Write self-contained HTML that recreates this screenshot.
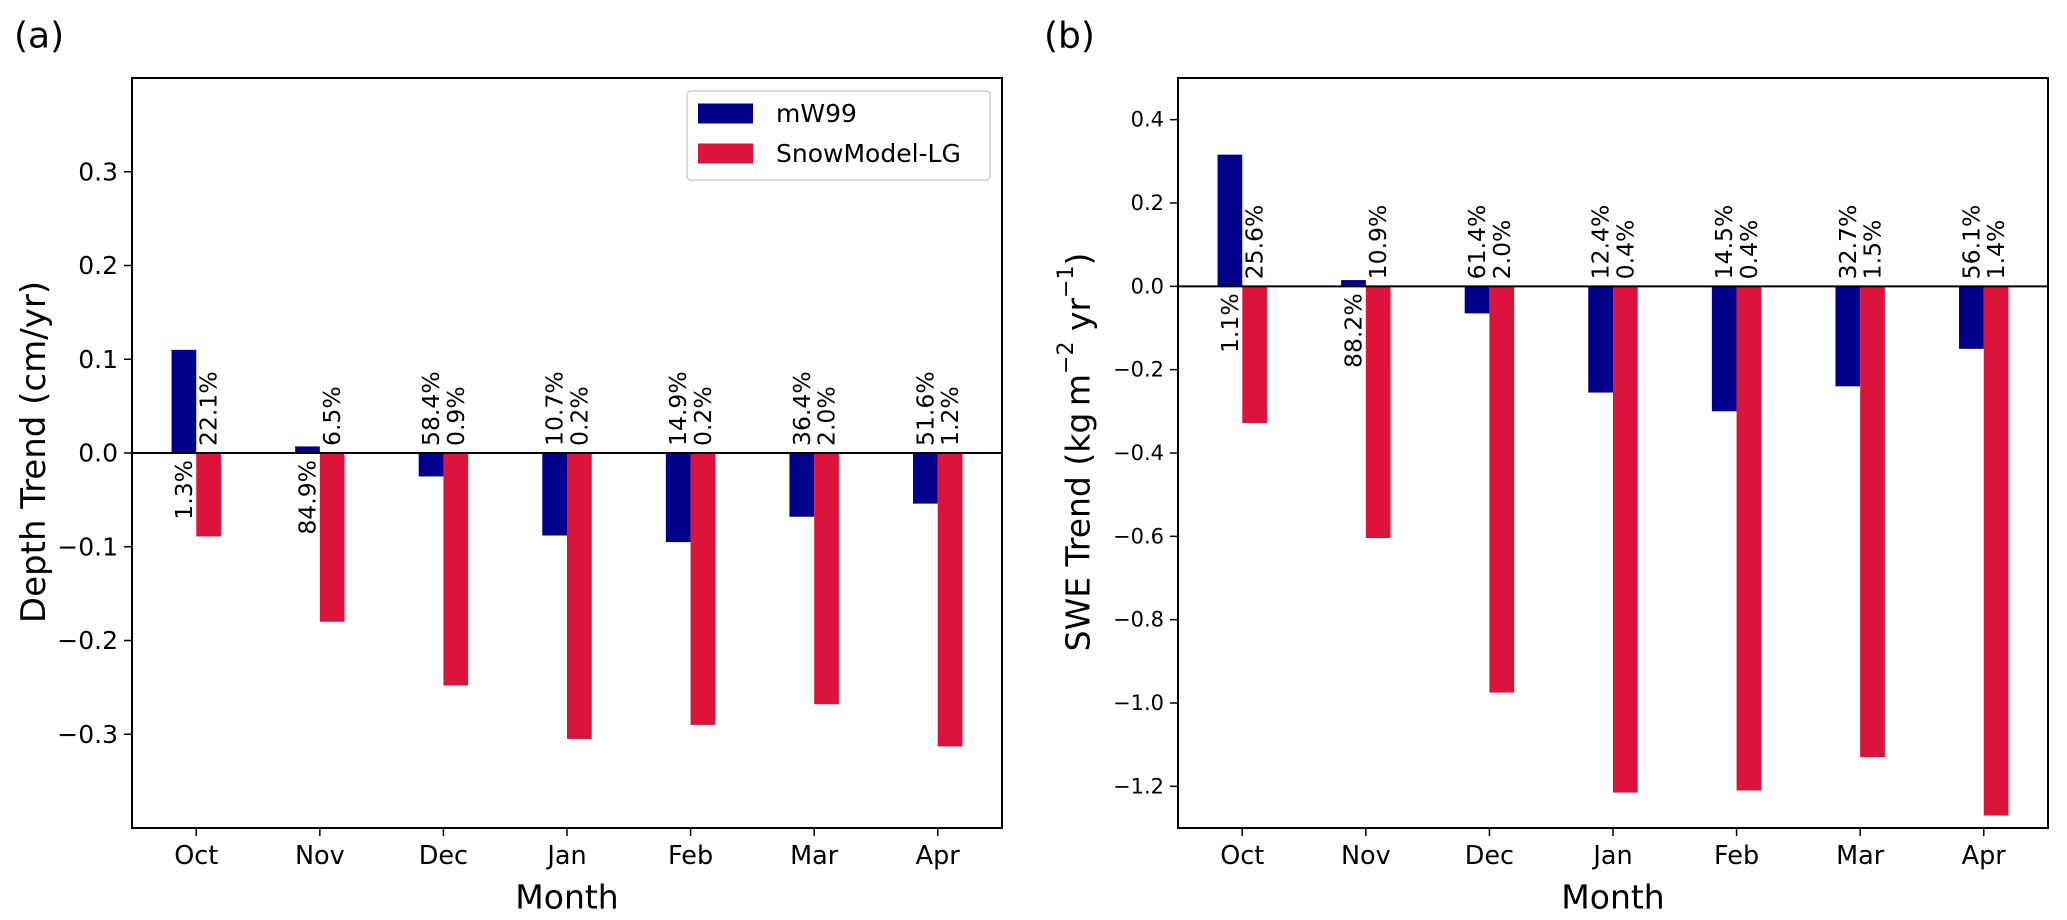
<!DOCTYPE html>
<html><head><meta charset="utf-8"><style>
html,body{margin:0;padding:0;background:#fff;}
svg{display:block;font-family:"DejaVu Sans","Liberation Sans",sans-serif;}
</style></head>
<body>
<svg id="fig" width="2067" height="920" viewBox="0 0 2067 920" xmlns="http://www.w3.org/2000/svg"></svg>
<script>
const months = ["Oct","Nov","Dec","Jan","Feb","Mar","Apr"];
const depthMW99 = [0.110, 0.007, -0.025, -0.088, -0.095, -0.068, -0.054];
const depthSnowModel = [-0.089, -0.180, -0.248, -0.305, -0.290, -0.268, -0.313];
const depthMW99Pct = ["1.3%","84.9%","58.4%","10.7%","14.9%","36.4%","51.6%"];
const depthSnowModelPct = ["22.1%","6.5%","0.9%","0.2%","0.2%","2.0%","1.2%"];
const depthTicks = [0.3,0.2,0.1,0.0,-0.1,-0.2,-0.3];
const depthTickLabels = ["0.3","0.2","0.1","0.0","\u22120.1","\u22120.2","\u22120.3"];
const sweMW99 = [0.316, 0.015, -0.065, -0.255, -0.300, -0.240, -0.150];
const sweSnowModel = [-0.328, -0.604, -0.975, -1.215, -1.210, -1.130, -1.270];
const sweMW99Pct = ["1.1%","88.2%","61.4%","12.4%","14.5%","32.7%","56.1%"];
const sweSnowModelPct = ["25.6%","10.9%","2.0%","0.4%","0.4%","1.5%","1.4%"];
const sweTicks = [0.4,0.2,0.0,-0.2,-0.4,-0.6,-0.8,-1.0,-1.2];
const sweTickLabels = ["0.4","0.2","0.0","\u22120.2","\u22120.4","\u22120.6","\u22120.8","\u22121.0","\u22121.2"];

const NS="http://www.w3.org/2000/svg";
const svg=document.getElementById('fig');
function mk(tag,attrs,parent){const e=document.createElementNS(NS,tag);for(const k in attrs)e.setAttribute(k,attrs[k]);(parent||svg).appendChild(e);return e;}

function panel(cfg){
  const g=mk('g',{});
  
  
  const L=cfg.left,R=cfg.right,T=78,B=828;
  const xmin=-0.52,xmax=6.52;
  const xs=v=>L+(v-xmin)/(xmax-xmin)*(R-L);
  const ys=v=>T+(cfg.ymax-v)/(cfg.ymax-cfg.ymin)*(B-T);
  const bw=xs(0.2)-xs(0);
  const y0=ys(0);
  const series=[[cfg.blue,'#00008B',-0.1,cfg.bluePct,'mw99'],[cfg.red,'#DC143C',0.1,cfg.redPct,'snowmodel']];
  series.forEach(s=>{
    s[0].forEach((v,i)=>{
      const cx=xs(i+s[2]);
      const top=Math.min(ys(v),y0),h=Math.abs(ys(v)-y0);
      const r=mk('rect',{x:cx-bw/2,y:top,width:bw,height:h,fill:s[1]},g);
      
      
      let t;
      if(v>=0){
        t=mk('text',{x:0,y:0,'font-size':23.5,'text-anchor':'end','dominant-baseline':'central',transform:`translate(${cx},${y0+7}) rotate(-90)`},g);
      } else {
        t=mk('text',{x:0,y:0,'font-size':23.5,'text-anchor':'start','dominant-baseline':'central',transform:`translate(${cx},${y0-7}) rotate(-90)`},g);
      }
      t.textContent=s[3][i];
      
      
    });
  });
  const zl=mk('line',{x1:L,x2:R,y1:y0,y2:y0,stroke:'#000','stroke-width':2},g);
  
  
  const fr=mk('rect',{x:L,y:T,width:R-L,height:B-T,fill:'none',stroke:'#000','stroke-width':2},g);
  
  
  cfg.ticks.forEach((v,i)=>{
    const y=ys(v);
    mk('line',{x1:L-8,x2:L,y1:y,y2:y,stroke:'#000','stroke-width':1.5},g);
    const t=mk('text',{x:L-14,y:y,'font-size':cfg.tickFs,'text-anchor':'end','dominant-baseline':'central'},g);
    t.textContent=cfg.tickLabels[i];
    
    
  });
  months.forEach((m,i)=>{
    const x=xs(i);
    mk('line',{x1:x,x2:x,y1:B,y2:B+8,stroke:'#000','stroke-width':1.5},g);
    const t=mk('text',{x:x,y:856,'font-size':25.5,'text-anchor':'middle','dominant-baseline':'central'},g);
    t.textContent=m;
    
    
  });
  const xt=mk('text',{x:(L+R)/2,y:897,'font-size':33,'text-anchor':'middle','dominant-baseline':'central'},g);
  xt.textContent='Month';
  
  
  const yt=mk('text',{x:0,y:0,'font-size':cfg.ylFs,'text-anchor':'middle','dominant-baseline':'central',transform:`translate(${cfg.ylx},452) rotate(-90)`},g);
  yt.innerHTML=cfg.ylabel;
  
  
  const pl=mk('text',{x:cfg.plx,y:36,'font-size':36,'dominant-baseline':'central'},g);
  pl.textContent=cfg.plabel;
  
  
}

panel({name:'panel-a-depth',left:132,right:1002,ymin:-0.4,ymax:0.4,blue:depthMW99,red:depthSnowModel,bluePct:depthMW99Pct,redPct:depthSnowModelPct,ticks:depthTicks,tickLabels:depthTickLabels,tickFs:25,ylabel:'Depth Trend (cm/yr)',ylFs:34,ylx:34,plx:14,plabel:'(a)'});
panel({name:'panel-b-swe',left:1178,right:2048,ymin:-1.3,ymax:0.5,blue:sweMW99,red:sweSnowModel,bluePct:sweMW99Pct,redPct:sweSnowModelPct,ticks:sweTicks,tickLabels:sweTickLabels,tickFs:21,ylabel:'SWE Trend (kg\u2009m<tspan dy="-12" font-size="22">\u22122</tspan><tspan dy="12"> yr</tspan><tspan dy="-12" font-size="22">\u22121</tspan><tspan dy="12">)</tspan>',ylFs:33,ylx:1078,plx:1044,plabel:'(b)'});

const lg=mk('g',{});


mk('rect',{x:687,y:91,width:303,height:89,rx:4,fill:'#fff',stroke:'#d0d0d0','stroke-width':1.5},lg);
const items=[['mW99','#00008B',113.5],['SnowModel-LG','#DC143C',153.5]];
items.forEach(it=>{
  const e=mk('g',{},lg);
  
  
  mk('rect',{x:698,y:it[2]-10,width:55,height:20,fill:it[1]},e);
  const t=mk('text',{x:776,y:it[2],'font-size':25,'dominant-baseline':'central'},e);
  t.textContent=it[0];
});
</script>
</body></html>
